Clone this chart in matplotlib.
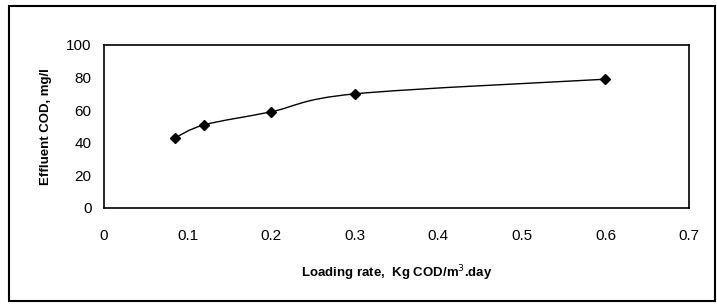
import matplotlib.pyplot as plt
from matplotlib.path import Path
from matplotlib.patches import PathPatch, Rectangle
import numpy as np

plt.rcParams['font.family'] = ['Liberation Sans', 'DejaVu Sans']

# data
loading_rate = [0.085, 0.12, 0.2, 0.3, 0.6]
effluent_cod = [43, 51, 59, 70, 79]
x_ticks = [0, 0.1, 0.2, 0.3, 0.4, 0.5, 0.6, 0.7]
x_tick_labels = ["0", "0.1", "0.2", "0.3", "0.4", "0.5", "0.6", "0.7"]
y_ticks = [0, 20, 40, 60, 80, 100]


def smooth_path(xs, ys):
    # Catmull-Rom style bezier segments, like Excel's smoothed line
    xs = np.array(xs, float)
    ys = np.array(ys, float)
    n = len(xs)
    verts = [(xs[0], ys[0])]
    codes = [Path.MOVETO]
    for i in range(n - 1):
        p0 = i - 1 if i > 0 else i
        p3 = i + 2 if i + 2 < n else i + 1
        c1 = (xs[i] + (xs[i+1] - xs[p0]) / 6, ys[i] + (ys[i+1] - ys[p0]) / 6)
        c2 = (xs[i+1] - (xs[p3] - xs[i]) / 6, ys[i+1] - (ys[p3] - ys[i]) / 6)
        verts += [c1, c2, (xs[i+1], ys[i+1])]
        codes += [Path.CURVE4] * 3
    return Path(verts, codes)


fig = plt.figure(figsize=(7.17, 3.04), dpi=100)
ax = fig.add_axes([0.145, 0.316, 0.816, 0.536])

ax.add_patch(PathPatch(smooth_path(loading_rate, effluent_cod), fill=False,
                       edgecolor="black", linewidth=1.0))
ax.plot(loading_rate, effluent_cod, linestyle="none", marker="D",
        markersize=5, color="black")

ax.set_xlim(0, 0.7)
ax.set_ylim(0, 100)
ax.set_xticks(x_ticks)
ax.set_xticklabels(x_tick_labels)
ax.set_yticks(y_ticks)
ax.tick_params(length=0, labelsize=11)
ax.tick_params(axis="x", pad=15)
ax.tick_params(axis="y", pad=9)
for s in ax.spines.values():
    s.set_linewidth(1.2)

ax.set_xlabel("Loading rate,  Kg COD/m$^3$.day", fontsize=9.5,
              fontweight="bold", labelpad=15)
ax.set_ylabel("Effluent COD, mg/l", fontsize=9.5, fontweight="bold",
              labelpad=10)

# outer chart border
fig.patches.append(Rectangle((0.013, 0.01), 0.984, 0.97, transform=fig.transFigure,
                             fill=False, edgecolor="black", linewidth=1.5))

fig.savefig("out.png", dpi=100)
